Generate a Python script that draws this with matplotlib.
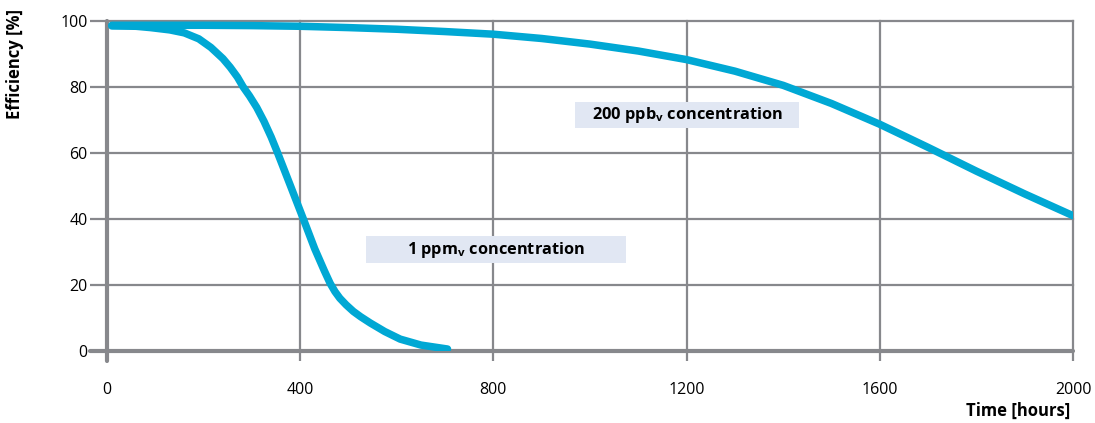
import matplotlib
matplotlib.use("Agg")
import matplotlib.pyplot as plt
from matplotlib.patches import Rectangle

plt.rcParams['font.family'] = ['Open Sans', 'DejaVu Sans']
plt.rcParams['mathtext.fontset'] = 'custom'
plt.rcParams['mathtext.rm'] = 'Open Sans'
plt.rcParams['mathtext.bf'] = 'Open Sans:bold'

# Data
ppb200_hours = [10, 100, 200, 300, 400, 500, 600, 700, 800, 900, 1000, 1100, 1200,
                1300, 1400, 1500, 1600, 1700, 1800, 1900, 2000]
ppb200_eff = [98.7, 98.7, 98.7, 98.6, 98.4, 98.0, 97.5, 96.8, 96.0, 94.7, 93.0, 90.9, 88.3,
              84.8, 80.5, 75.0, 68.7, 61.7, 54.5, 47.6, 41.0]

ppm1_hours = [10, 60, 90, 130, 160, 190, 215, 240, 255, 270, 282, 295, 310, 325, 340,
              352, 380, 406, 430, 450, 462, 472, 482, 495, 510, 525, 545, 575, 607,
              650, 705]
ppm1_eff = [98.5, 98.4, 98.0, 97.3, 96.4, 94.6, 92.0, 88.6, 86.0, 83.0, 80.0, 77.3, 73.8,
            69.6, 64.8, 60.5, 50.0, 40.2, 31.0, 24.3, 20.5, 18.0, 16.0, 14.0, 12.0,
            10.4, 8.5, 5.9, 3.6, 1.8, 0.6]

x_ticks = [0, 400, 800, 1200, 1600, 2000]
y_ticks = [0, 20, 40, 60, 80, 100]
label_1ppm = r"1 ppm$_{\mathbf{v}}$ concentration"
label_200ppb = r"200 ppb$_{\mathbf{v}}$ concentration"

GRID = '#87888c'
CURVE = '#00a8d4'
BOX = '#e1e7f3'

fig = plt.figure(figsize=(10.95, 4.23), dpi=100)
ax = fig.add_axes([107/1095, 1 - 351/423, (1073-107)/1095, (351-21)/423])
ax.set_xlim(0, 2000)
ax.set_ylim(0, 100)

for s in ['top', 'right']:
    ax.spines[s].set_visible(False)
for s in ['left', 'bottom']:
    ax.spines[s].set_color(GRID)
    ax.spines[s].set_linewidth(3.0)
    ax.spines[s].set_capstyle('round')
ax.spines['left'].set_bounds(-3.0, 100)

ax.set_xticks(x_ticks)
ax.set_yticks(y_ticks)
ax.grid(True, color=GRID, linewidth=1.6)
ax.set_axisbelow(True)
for gl in ax.get_xgridlines() + ax.get_ygridlines():
    gl.set_clip_on(False)
ax.tick_params(axis='x', length=7, width=1.6, color=GRID, pad=15, labelsize=11.5)
ax.tick_params(axis='y', length=12.5, width=1.6, color=GRID, pad=1.5, labelsize=11.5)
ax.axhline(0, xmin=-0.018, xmax=0, color=GRID, linewidth=3.0, clip_on=False,
           solid_capstyle='round')

# label boxes (decoration)
ax.add_patch(Rectangle((0.268, 0.267), 0.269, 0.081, transform=ax.transAxes,
                       facecolor=BOX, edgecolor='none', zorder=1.5))
ax.add_patch(Rectangle((0.4845, 0.676), 0.232, 0.079, transform=ax.transAxes,
                       facecolor=BOX, edgecolor='none', zorder=1.5))
ax.text(0.4025, 0.307, label_1ppm, transform=ax.transAxes, ha='center', va='center',
        fontsize=11.8, fontweight='bold', zorder=3)
ax.text(0.6005, 0.715, label_200ppb, transform=ax.transAxes, ha='center', va='center',
        fontsize=11.8, fontweight='bold', zorder=3)

ax.plot(ppb200_hours, ppb200_eff, color=CURVE, linewidth=5.4, solid_capstyle='round',
        solid_joinstyle='round', zorder=4)
ax.plot(ppm1_hours, ppm1_eff, color=CURVE, linewidth=5.4, solid_capstyle='round',
        solid_joinstyle='round', zorder=4)

fig.text(15/1095, 1 - 64/423, 'Efficiency [%]', rotation=90, ha='center', va='center',
         fontsize=12, fontweight='bold')
fig.text(1070/1095, 1 - 411/423, 'Time [hours]', ha='right', va='center',
         fontsize=12, fontweight='bold')

fig.savefig('out.png', dpi=100)
